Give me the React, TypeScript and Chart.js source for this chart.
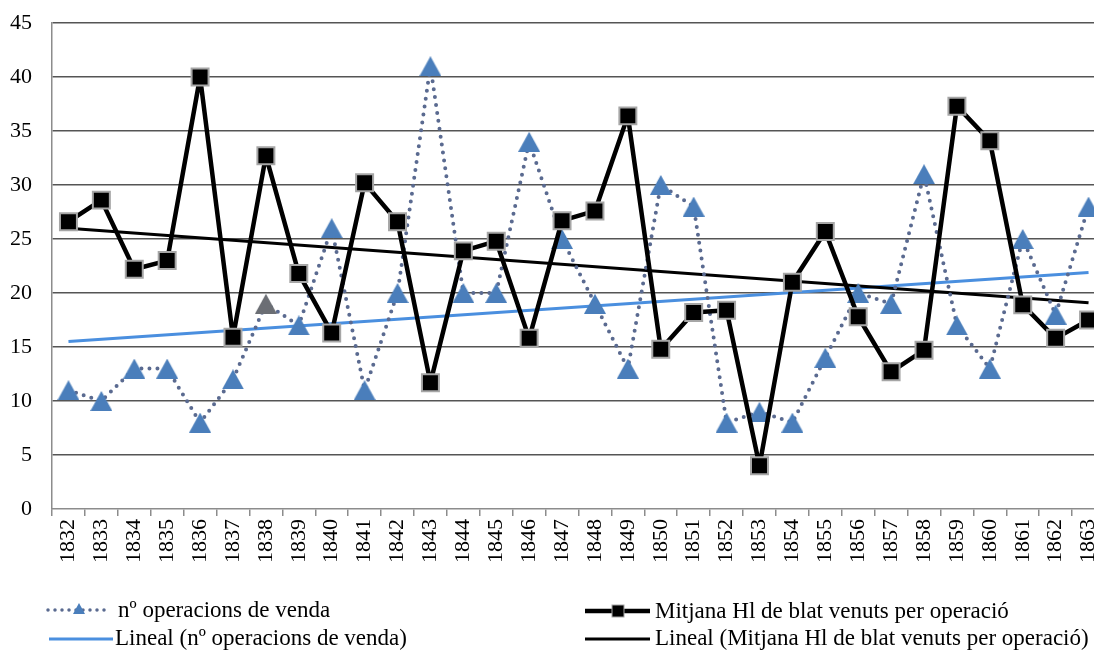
import React, { useEffect, useRef } from 'react';
import { Chart, registerables } from 'chart.js';

Chart.register(...registerables);

const years = [
  '1832', '1833', '1834', '1835', '1836', '1837', '1838', '1839', '1840', '1841',
  '1842', '1843', '1844', '1845', '1846', '1847', '1848', '1849', '1850', '1851',
  '1852', '1853', '1854', '1855', '1856', '1857', '1858', '1859', '1860', '1861',
  '1862', '1863',
];

const operacions = [
  11, 10, 13, 13, 8, 12, 19, 17, 26, 11,
  20, 41, 20, 20, 34, 25, 19, 13, 30, 28,
  8, 9, 8, 14, 20, 19, 31, 17, 13, 25,
  18, 28,
];

const mitjana = [
  26.6, 28.6, 22.2, 23.0, 40.0, 15.9, 32.7, 21.8, 16.3, 30.2,
  26.6, 11.7, 23.9, 24.8, 15.8, 26.7, 27.6, 36.4, 14.8, 18.2,
  18.4, 4.0, 21.0, 25.7, 17.8, 12.7, 14.7, 37.3, 34.1, 18.9,
  15.8, 17.5,
];

// trend lines at the first and last year
const trendYears = ['1832', '1863'];
const trendOperacions = [15.5, 21.9];
const trendMitjana = [26.0, 19.1];

// the one grey triangle in the picture
const greyTriangleYear = '1838';

const labelOperacions = 'nº operacions de venda';
const labelMitjana = 'Mitjana Hl de blat venuts per operació';
const labelTrendOperacions = 'Lineal (nº operacions de venda)';
const labelTrendMitjana = 'Lineal (Mitjana Hl de blat venuts per operació)';

const FONT = '"Liberation Serif", "Times New Roman", serif';
const BLUE_TRI = '#4a7ebb';
const GREY_TRI = '#6b6e74';
const DOT_COLOR = '#5a6a90';
const TREND_BLUE = '#4a8fdf';

function makeTriangle(color: string, w: number, h: number) {
  const c = document.createElement('canvas');
  c.width = w;
  c.height = h;
  const g = c.getContext('2d')!;
  g.fillStyle = color;
  g.beginPath();
  g.moveTo(w / 2, 0);
  g.lineTo(w, h);
  g.lineTo(0, h);
  g.closePath();
  g.fill();
  return c;
}

const legendPlugin = {
  id: 'customLegend',
  afterDraw(chart: any) {
    const ctx = chart.ctx as CanvasRenderingContext2D;
    const ds = chart.data.datasets;
    ctx.save();
    ctx.font = `23px ${FONT}`;
    ctx.textBaseline = 'alphabetic';
    ctx.textAlign = 'left';
    ctx.fillStyle = '#000';

    // column 1, row 1 : dotted with triangle
    ctx.strokeStyle = DOT_COLOR;
    ctx.lineWidth = 3.5;
    ctx.lineCap = 'round';
    ctx.setLineDash([0, 7]);
    ctx.beginPath();
    ctx.moveTo(48, 610);
    ctx.lineTo(110, 610);
    ctx.stroke();
    ctx.setLineDash([]);
    ctx.fillStyle = BLUE_TRI;
    ctx.beginPath();
    ctx.moveTo(79, 603);
    ctx.lineTo(85, 614);
    ctx.lineTo(73, 614);
    ctx.closePath();
    ctx.fill();
    ctx.fillStyle = '#000';
    ctx.fillText(ds[1].label, 118, 617);

    // column 1, row 2 : blue trend
    ctx.strokeStyle = TREND_BLUE;
    ctx.lineWidth = 3;
    ctx.lineCap = 'butt';
    ctx.beginPath();
    ctx.moveTo(49, 639);
    ctx.lineTo(113, 639);
    ctx.stroke();
    ctx.fillText(ds[3].label, 115, 645);

    // column 2, row 1 : black line with square
    ctx.strokeStyle = '#000';
    ctx.lineWidth = 4.5;
    ctx.beginPath();
    ctx.moveTo(585, 611);
    ctx.lineTo(650, 611);
    ctx.stroke();
    ctx.fillStyle = '#000';
    ctx.fillRect(612, 605, 12, 12);
    ctx.strokeStyle = '#a6a6a6';
    ctx.lineWidth = 1;
    ctx.strokeRect(612, 605, 12, 12);
    ctx.fillText(ds[0].label, 655, 618);

    // column 2, row 2 : black trend
    ctx.strokeStyle = '#000';
    ctx.lineWidth = 3;
    ctx.beginPath();
    ctx.moveTo(585, 639);
    ctx.lineTo(650, 639);
    ctx.stroke();
    ctx.fillText(ds[2].label, 655, 645);

    ctx.restore();
  },
};

export default function App() {
  const canvasRef = useRef<HTMLCanvasElement | null>(null);

  useEffect(() => {
    const canvas = canvasRef.current;
    if (!canvas) return;
    const triBlue = makeTriangle(BLUE_TRI, 22, 20);
    const triGrey = makeTriangle(GREY_TRI, 22, 20);
    const triStyles = years.map((y) => (y === greyTriangleYear ? triGrey : triBlue));

    const chart = new Chart(canvas, {
      type: 'line',
      data: {
        labels: years,
        datasets: [
          {
            label: labelMitjana,
            data: mitjana,
            borderColor: '#000',
            backgroundColor: '#000',
            borderWidth: 4.5,
            borderJoinStyle: 'round',
            tension: 0,
            pointStyle: 'rect',
            pointRadius: 12,
            pointHoverRadius: 12,
            pointBackgroundColor: '#000',
            pointBorderColor: '#a6a6a6',
            pointBorderWidth: 2,
            order: 1,
          },
          {
            label: labelOperacions,
            data: operacions,
            borderColor: DOT_COLOR,
            backgroundColor: BLUE_TRI,
            borderWidth: 4,
            borderDash: [0, 8],
            borderCapStyle: 'round',
            borderJoinStyle: 'round',
            tension: 0,
            pointStyle: triStyles as any,
            pointRadius: 11,
            pointBorderWidth: 0,
            order: 2,
          },
          {
            label: labelTrendMitjana,
            data: trendYears.map((x, i) => ({ x, y: trendMitjana[i] })),
            borderColor: '#000',
            borderWidth: 3,
            pointRadius: 0,
            order: 3,
          },
          {
            label: labelTrendOperacions,
            data: trendYears.map((x, i) => ({ x, y: trendOperacions[i] })),
            borderColor: TREND_BLUE,
            borderWidth: 3,
            pointRadius: 0,
            order: 4,
          },
        ] as any,
      },
      options: {
        responsive: false,
        animation: false,
        events: [],
        layout: { padding: { top: 23, right: 25, left: 0, bottom: 0 } },
        plugins: {
          legend: { display: false },
          tooltip: { enabled: false },
        },
        scales: {
          x: {
            type: 'category',
            offset: true,
            grid: {
              display: true,
              drawOnChartArea: false,
              drawTicks: true,
              tickLength: 7,
              offset: true,
              color: '#8c8c8c',
              lineWidth: 1.5,
            },
            border: { display: true, color: '#8c8c8c', width: 1.5 },
            ticks: {
              autoSkip: false,
              minRotation: 90,
              maxRotation: 90,
              padding: 3,
              color: '#000',
              font: { family: FONT, size: 22 },
            },
            afterFit: (s: any) => {
              s.height = 144;
            },
          },
          y: {
            min: 0,
            max: 45,
            ticks: {
              stepSize: 5,
              padding: 20,
              color: '#000',
              font: { family: FONT, size: 22 },
            },
            grid: {
              drawTicks: false,
              color: (c: any) => (c.tick && c.tick.value === 0 ? 'rgba(0,0,0,0)' : '#555555'),
              lineWidth: 1.5,
            },
            border: { display: true, color: '#8c8c8c', width: 1.5 },
            afterFit: (s: any) => {
              s.width = 52;
              s.paddingTop = 0;
              s.paddingBottom = 0;
            },
          },
        },
      } as any,
      plugins: [legendPlugin],
    });

    return () => {
      chart.destroy();
    };
  }, []);

  return (
    <div
      style={{
        position: 'fixed',
        left: 0,
        top: 0,
        width: 1094,
        height: 653,
        overflow: 'hidden',
        background: '#fff',
      }}
    >
      <canvas ref={canvasRef} width={1130} height={653} style={{ display: 'block' }} />
    </div>
  );
}
